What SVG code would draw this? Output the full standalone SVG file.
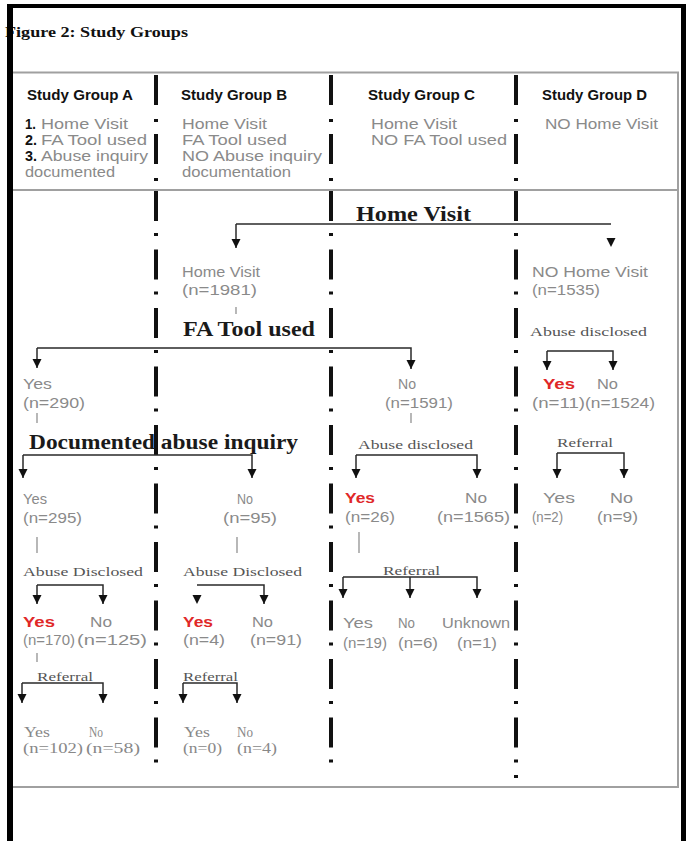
<svg xmlns="http://www.w3.org/2000/svg" width="686" height="841" viewBox="0 0 686 841">
<style>
text{font-family:"Liberation Sans",Arial,sans-serif}
.title{font-family:"Liberation Serif","Times New Roman",serif;font-weight:bold;font-size:14px;fill:#111}
.h{font-weight:bold;font-size:15px;fill:#111}
.n{font-weight:bold;font-size:14px;fill:#111}
.g{font-size:14px;fill:#8a8a8a}
.v{font-size:15px;fill:#8a8a8a}
.r{font-weight:bold;font-size:15px;fill:#e02828}
.b{font-family:"Liberation Serif","Times New Roman",serif;font-weight:bold;font-size:20px;fill:#1a1a1a}
.s{font-family:"Liberation Serif","Times New Roman",serif;font-size:13px;fill:#555}
.o{font-family:"Liberation Serif","Times New Roman",serif;font-size:14px;fill:#888}
.sep{stroke:#111;stroke-width:4;fill:none}
.hsep{stroke-dasharray:30 14 3 12}
.bsep{stroke-dasharray:30 12 3 13.5}
.grid{stroke:#a0a0a0;stroke-width:2;fill:none}
.c{stroke:#2a2a2a;stroke-width:1.5;fill:none}
.tick{stroke:#888;stroke-width:1.2;fill:none}
.frame{fill:#000}
</style>
<defs>
<marker id="arr" viewBox="0 -5 10 10" refX="9" refY="0" markerWidth="10" markerHeight="10" markerUnits="userSpaceOnUse" orient="auto">
<path d="M0,-4.5 L9,0 L0,4.5 z" fill="#111"/>
</marker>
</defs>
<rect width="686" height="841" fill="#fff"/>

<text class="title" x="5" y="37" textLength="183" lengthAdjust="spacingAndGlyphs">Figure 2: Study Groups</text>

<g id="table-grid">
<line class="grid" x1="13" y1="72.5" x2="679" y2="72.5"/>
<line class="grid" x1="13" y1="190" x2="679" y2="190"/>
<line class="grid" x1="13" y1="787" x2="679" y2="787"/>
<line class="grid" x1="678" y1="72" x2="678" y2="788"/>
</g>

<g id="separators">
<line class="sep hsep" x1="156" y1="75" x2="156" y2="186"/>
<line class="sep hsep" x1="331" y1="75" x2="331" y2="186"/>
<line class="sep hsep" x1="516" y1="75" x2="516" y2="186"/>
<line class="sep bsep" x1="156" y1="191" x2="156" y2="763"/>
<line class="sep bsep" x1="331" y1="191" x2="331" y2="763"/>
<line class="sep bsep" x1="516" y1="191" x2="516" y2="763"/>
<rect x="514" y="775" width="4" height="3" fill="#111"/>
</g>

<g id="header-A">
<text class="h" x="27" y="100" textLength="106" lengthAdjust="spacingAndGlyphs">Study Group A</text>
<text class="n" x="25" y="129" textLength="11" lengthAdjust="spacingAndGlyphs">1.</text>
<text class="g" x="41" y="129" textLength="87" lengthAdjust="spacingAndGlyphs">Home Visit</text>
<text class="n" x="25" y="145" textLength="12" lengthAdjust="spacingAndGlyphs">2.</text>
<text class="g" x="41" y="145" textLength="106" lengthAdjust="spacingAndGlyphs">FA Tool used</text>
<text class="n" x="25" y="161" textLength="12" lengthAdjust="spacingAndGlyphs">3.</text>
<text class="g" x="41" y="161" textLength="107" lengthAdjust="spacingAndGlyphs">Abuse inquiry</text>
<text class="g" x="25" y="177" textLength="90" lengthAdjust="spacingAndGlyphs">documented</text>
</g>
<g id="header-B">
<text class="h" x="181" y="100" textLength="106" lengthAdjust="spacingAndGlyphs">Study Group B</text>
<text class="g" x="182" y="129" textLength="85" lengthAdjust="spacingAndGlyphs">Home Visit</text>
<text class="g" x="182" y="145" textLength="105" lengthAdjust="spacingAndGlyphs">FA Tool used</text>
<text class="g" x="182" y="161" textLength="140" lengthAdjust="spacingAndGlyphs">NO Abuse inquiry</text>
<text class="g" x="182" y="177" textLength="109" lengthAdjust="spacingAndGlyphs">documentation</text>
</g>
<g id="header-C">
<text class="h" x="368" y="100" textLength="107" lengthAdjust="spacingAndGlyphs">Study Group C</text>
<text class="g" x="371" y="129" textLength="86" lengthAdjust="spacingAndGlyphs">Home Visit</text>
<text class="g" x="371" y="145" textLength="136" lengthAdjust="spacingAndGlyphs">NO FA Tool used</text>
</g>
<g id="header-D">
<text class="h" x="542" y="100" textLength="105" lengthAdjust="spacingAndGlyphs">Study Group D</text>
<text class="g" x="545" y="129" textLength="113" lengthAdjust="spacingAndGlyphs">NO Home Visit</text>
</g>

<g id="connectors">
<path class="c" d="M236,224 H611"/>
<path class="c" d="M236,224 V248" marker-end="url(#arr)"/>
<path d="M611,238 V247" stroke="none" fill="none" marker-end="url(#arr)"/>
<path class="tick" d="M236,307 V314"/>
<path class="c" d="M37,348 H411 V369" marker-end="url(#arr)"/>
<path class="c" d="M37,348 V368" marker-end="url(#arr)"/>
<path class="c" d="M547,351 H613 V370" marker-end="url(#arr)"/>
<path class="c" d="M547,351 V370" marker-end="url(#arr)"/>
<path class="tick" d="M37,413 V423"/>
<path class="tick" d="M411,413 V423"/>
<path class="c" d="M23,455 H252 V478" marker-end="url(#arr)"/>
<path class="c" d="M23,455 V478" marker-end="url(#arr)"/>
<path class="c" d="M356,455 H477 V478" marker-end="url(#arr)"/>
<path class="c" d="M356,455 V478" marker-end="url(#arr)"/>
<path class="c" d="M557,453 H624 V478" marker-end="url(#arr)"/>
<path class="c" d="M557,453 V478" marker-end="url(#arr)"/>
<path class="tick" d="M37,537 V553"/>
<path class="tick" d="M237,537 V553"/>
<path class="tick" d="M359,532 V553"/>
<path class="c" d="M343,577 H477 V598" marker-end="url(#arr)"/>
<path class="c" d="M343,577 V598" marker-end="url(#arr)"/>
<path class="c" d="M410,577 V598" marker-end="url(#arr)"/>
<path class="c" d="M37,585 H103 V604" marker-end="url(#arr)"/>
<path class="c" d="M37,585 V604" marker-end="url(#arr)"/>
<path class="c" d="M197,585 H264 V604" marker-end="url(#arr)"/>
<path d="M197,596 V604" stroke="none" fill="none" marker-end="url(#arr)"/>
<path class="tick" d="M37,653 V662"/>
<path class="c" d="M22,683 H103 V703" marker-end="url(#arr)"/>
<path class="c" d="M22,683 V703" marker-end="url(#arr)"/>
<path class="c" d="M183,683 H237 V703" marker-end="url(#arr)"/>
<path class="c" d="M183,683 V703" marker-end="url(#arr)"/>
</g>

<g id="home-visit-q">
<text class="b" x="356" y="221" textLength="115" lengthAdjust="spacingAndGlyphs">Home Visit</text>
</g>
<g id="home-visit">
<text class="v" x="182" y="277" textLength="78" lengthAdjust="spacingAndGlyphs">Home Visit</text>
<text class="v" x="182" y="295" textLength="75" lengthAdjust="spacingAndGlyphs">(n=1981)</text>
</g>
<g id="no-home-visit">
<text class="v" x="532" y="277" textLength="116" lengthAdjust="spacingAndGlyphs">NO Home Visit</text>
<text class="v" x="532" y="295" textLength="68" lengthAdjust="spacingAndGlyphs">(n=1535)</text>
</g>
<g id="fa-tool-q">
<text class="b" x="183" y="336" textLength="132" lengthAdjust="spacingAndGlyphs">FA Tool used</text>
</g>
<g id="d-abuse-q">
<text class="s" x="530" y="336" textLength="117" lengthAdjust="spacingAndGlyphs">Abuse disclosed</text>
</g>
<g id="fa-yes">
<text class="v" x="23" y="389" textLength="29" lengthAdjust="spacingAndGlyphs">Yes</text>
<text class="v" x="23" y="408" textLength="62" lengthAdjust="spacingAndGlyphs">(n=290)</text>
</g>
<g id="fa-no">
<text class="v" x="398" y="389" textLength="18" lengthAdjust="spacingAndGlyphs">No</text>
<text class="v" x="385" y="408" textLength="68" lengthAdjust="spacingAndGlyphs">(n=1591)</text>
</g>
<g id="d-abuse-yes">
<text class="r" x="543" y="389" textLength="32" lengthAdjust="spacingAndGlyphs">Yes</text>
<text class="v" x="532" y="408" textLength="53" lengthAdjust="spacingAndGlyphs">(n=11)</text>
</g>
<g id="d-abuse-no">
<text class="v" x="597" y="389" textLength="21" lengthAdjust="spacingAndGlyphs">No</text>
<text class="v" x="585" y="408" textLength="70" lengthAdjust="spacingAndGlyphs">(n=1524)</text>
</g>
<g id="doc-q">
<text class="b" x="29" y="449" textLength="269" lengthAdjust="spacingAndGlyphs">Documented abuse inquiry</text>
</g>
<g id="c-abuse-q">
<text class="s" x="358" y="449" textLength="115" lengthAdjust="spacingAndGlyphs">Abuse disclosed</text>
</g>
<g id="d-referral-q">
<text class="s" x="557" y="447" textLength="56" lengthAdjust="spacingAndGlyphs">Referral</text>
</g>
<g id="doc-yes">
<text class="v" x="23" y="504" textLength="24" lengthAdjust="spacingAndGlyphs">Yes</text>
<text class="v" x="23" y="523" textLength="59" lengthAdjust="spacingAndGlyphs">(n=295)</text>
</g>
<g id="doc-no">
<text class="v" x="237" y="504" textLength="16" lengthAdjust="spacingAndGlyphs">No</text>
<text class="v" x="223" y="523" textLength="54" lengthAdjust="spacingAndGlyphs">(n=95)</text>
</g>
<g id="c-abuse-yes">
<text class="r" x="345" y="503" textLength="30" lengthAdjust="spacingAndGlyphs">Yes</text>
<text class="v" x="345" y="522" textLength="50" lengthAdjust="spacingAndGlyphs">(n=26)</text>
</g>
<g id="c-abuse-no">
<text class="v" x="465" y="503" textLength="22" lengthAdjust="spacingAndGlyphs">No</text>
<text class="v" x="437" y="522" textLength="73" lengthAdjust="spacingAndGlyphs">(n=1565)</text>
</g>
<g id="d-referral-yes">
<text class="v" x="543" y="503" textLength="32" lengthAdjust="spacingAndGlyphs">Yes</text>
<text class="v" x="532" y="522" textLength="31" lengthAdjust="spacingAndGlyphs">(n=2)</text>
</g>
<g id="d-referral-no">
<text class="v" x="610" y="503" textLength="23" lengthAdjust="spacingAndGlyphs">No</text>
<text class="v" x="597" y="522" textLength="41" lengthAdjust="spacingAndGlyphs">(n=9)</text>
</g>
<g id="a-abuse-q">
<text class="s" x="23" y="576" textLength="120" lengthAdjust="spacingAndGlyphs">Abuse Disclosed</text>
</g>
<g id="b-abuse-q">
<text class="s" x="183" y="576" textLength="119" lengthAdjust="spacingAndGlyphs">Abuse Disclosed</text>
</g>
<g id="c-referral-q">
<text class="s" x="383" y="575" textLength="57" lengthAdjust="spacingAndGlyphs">Referral</text>
</g>
<g id="a-abuse-yes">
<text class="r" x="23" y="627" textLength="32" lengthAdjust="spacingAndGlyphs">Yes</text>
<text class="v" x="23" y="645" textLength="52" lengthAdjust="spacingAndGlyphs">(n=170)</text>
</g>
<g id="a-abuse-no">
<text class="v" x="90" y="627" textLength="22" lengthAdjust="spacingAndGlyphs">No</text>
<text class="v" x="77" y="645" textLength="70" lengthAdjust="spacingAndGlyphs">(n=125)</text>
</g>
<g id="b-abuse-yes">
<text class="r" x="183" y="627" textLength="30" lengthAdjust="spacingAndGlyphs">Yes</text>
<text class="v" x="183" y="645" textLength="42" lengthAdjust="spacingAndGlyphs">(n=4)</text>
</g>
<g id="b-abuse-no">
<text class="v" x="252" y="627" textLength="21" lengthAdjust="spacingAndGlyphs">No</text>
<text class="v" x="250" y="645" textLength="52" lengthAdjust="spacingAndGlyphs">(n=91)</text>
</g>
<g id="c-referral-yes">
<text class="v" x="343" y="628" textLength="30" lengthAdjust="spacingAndGlyphs">Yes</text>
<text class="v" x="343" y="648" textLength="44" lengthAdjust="spacingAndGlyphs">(n=19)</text>
</g>
<g id="c-referral-no">
<text class="v" x="398" y="628" textLength="17" lengthAdjust="spacingAndGlyphs">No</text>
<text class="v" x="398" y="648" textLength="40" lengthAdjust="spacingAndGlyphs">(n=6)</text>
</g>
<g id="c-referral-unknown">
<text class="v" x="442" y="628" textLength="68" lengthAdjust="spacingAndGlyphs">Unknown</text>
<text class="v" x="457" y="648" textLength="40" lengthAdjust="spacingAndGlyphs">(n=1)</text>
</g>
<g id="a-referral-q">
<text class="s" x="37" y="681" textLength="56" lengthAdjust="spacingAndGlyphs">Referral</text>
</g>
<g id="b-referral-q">
<text class="s" x="183" y="681" textLength="55" lengthAdjust="spacingAndGlyphs">Referral</text>
</g>
<g id="a-referral-yes">
<text class="o" x="24" y="737" textLength="26" lengthAdjust="spacingAndGlyphs">Yes</text>
<text class="o" x="23" y="753" textLength="60" lengthAdjust="spacingAndGlyphs">(n=102)</text>
</g>
<g id="a-referral-no">
<text class="o" x="89" y="737" textLength="14" lengthAdjust="spacingAndGlyphs">No</text>
<text class="o" x="86" y="753" textLength="54" lengthAdjust="spacingAndGlyphs">(n=58)</text>
</g>
<g id="b-referral-yes">
<text class="o" x="184" y="737" textLength="26" lengthAdjust="spacingAndGlyphs">Yes</text>
<text class="o" x="183" y="753" textLength="39" lengthAdjust="spacingAndGlyphs">(n=0)</text>
</g>
<g id="b-referral-no">
<text class="o" x="237" y="737" textLength="16" lengthAdjust="spacingAndGlyphs">No</text>
<text class="o" x="237" y="753" textLength="40" lengthAdjust="spacingAndGlyphs">(n=4)</text>
</g>

<g id="frame">
<rect class="frame" x="7" y="4" width="679" height="4"/>
<rect class="frame" x="7" y="4" width="6" height="837"/>
<rect class="frame" x="681" y="4" width="5" height="837"/>
</g>
</svg>
